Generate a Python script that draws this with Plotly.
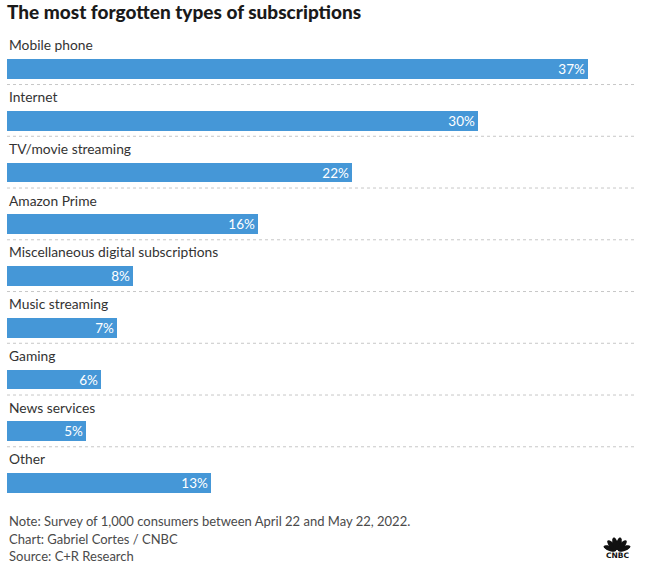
import math
import plotly.graph_objects as go

categories = ["Mobile phone", "Internet", "TV/movie streaming", "Amazon Prime",
              "Miscellaneous digital subscriptions", "Music streaming", "Gaming",
              "News services", "Other"]
values = [37, 30, 22, 16, 8, 7, 6, 5, 13]
value_labels = [f"{v}%" for v in values]

title_text = "The most forgotten types of subscriptions"
footer_lines = ["Note: Survey of 1,000 consumers between April 22 and May 22, 2022.",
                "Chart: Gabriel Cortes / CNBC",
                "Source: C+R Research"]

W, H = 648, 568
L, R = 7, 635          # plot pixel x-extent
T, B = 30, 500         # plot pixel y-extent
ROW0, PITCH = 69, 51.75
BLUE = "#4597d7"
FONT = "Lato"

y_top = -(ROW0 - T) / PITCH
y_bot = (len(categories) - 1) + (B - (ROW0 + PITCH * (len(categories) - 1))) / PITCH
ypos = list(range(len(categories)))

def py(pix):  # pixel y -> paper y
    return (B - pix) / (B - T)

def px(pix):
    return (pix - L) / (R - L)

fig = go.Figure(go.Bar(
    x=values, y=ypos, orientation="h",
    marker=dict(color=BLUE, line=dict(width=0)),
    width=0.386,
    text=value_labels, textposition="inside", insidetextanchor="end",
    textangle=0,
    textfont=dict(color="white", size=13.5, family=FONT),
    hoverinfo="skip",
))

annotations = []
for i, c in enumerate(categories):
    annotations.append(dict(x=0, y=i - 0.465, xref="x", yref="y", text=c,
                            showarrow=False, xanchor="left", yanchor="middle",
                            font=dict(size=13.8, color="#333333", family=FONT)))

shapes = []
for i in range(len(categories) - 1):
    shapes.append(dict(type="line", xref="paper", yref="y", x0=0, x1=1,
                       y0=i + 0.3, y1=i + 0.3,
                       line=dict(color="#c8c8c8", width=1, dash="dot")))

for txt, yy in zip(footer_lines, [521, 539, 556]):
    annotations.append(dict(x=px(7), y=py(yy), xref="paper", yref="paper", text=txt,
                            showarrow=False, xanchor="left", yanchor="middle",
                            font=dict(size=13, color="#4a4a4a", family=FONT)))

# CNBC logo (approximation): peacock fan + wordmark
annotations.append(dict(x=px(617), y=py(555.5), xref="paper", yref="paper", text="<b>CNBC</b>",
                        showarrow=False, xanchor="center", yanchor="middle",
                        font=dict(size=7.5, color="#111111", family="DejaVu Sans")))
pcx, pcy = 617, 551
for k in range(6):
    ang = math.radians(160 - k * 28)
    ux, uy = math.cos(ang), -math.sin(ang)      # feather direction (pixel space)
    vx, vy = -uy, ux
    ccx, ccy = pcx + 7.5 * ux, pcy + 7.5 * uy
    pts = []
    for t in range(0, 360, 20):
        a = math.radians(t)
        x = ccx + 6.5 * math.cos(a) * ux + 2.6 * math.sin(a) * vx
        y = ccy + 6.5 * math.cos(a) * uy + 2.6 * math.sin(a) * vy
        pts.append((px(x), py(y)))
    path = "M " + " L ".join(f"{x:.5f},{y:.5f}" for x, y in pts) + " Z"
    shapes.append(dict(type="path", xref="paper", yref="paper", path=path,
                       fillcolor="#111111", line=dict(width=0)))

fig.update_layout(
    width=W, height=H,
    margin=dict(l=L, r=W - R, t=T, b=H - B, pad=0),
    paper_bgcolor="white", plot_bgcolor="white",
    showlegend=False,
    bargap=0,
    uniformtext=dict(minsize=13, mode="show"),
    title=dict(text=title_text, x=7 / W, xanchor="left", xref="container",
               y=1 - 12 / H, yanchor="middle", yref="container",
               font=dict(size=19, color="#1a1a1a", family=FONT, weight=900)),
    xaxis=dict(range=[0, 40], visible=False, fixedrange=True),
    yaxis=dict(range=[y_bot, y_top], visible=False, fixedrange=True),
    annotations=annotations, shapes=shapes,
)

fig.write_html("out.html", config={"displayModeBar": False},
               post_script="document.body.style.margin='0';document.body.style.overflow='hidden';")
